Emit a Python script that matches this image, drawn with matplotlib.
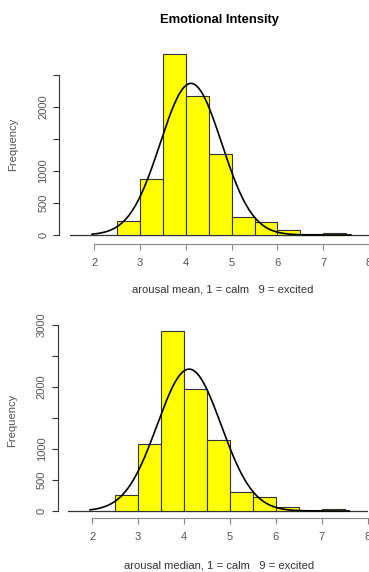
import matplotlib
matplotlib.use("Agg")
import matplotlib.pyplot as plt
import numpy as np

plt.rcParams["font.family"] = ["Liberation Sans", "DejaVu Sans"]

# histogram bins (width 0.5) and counts
bin_edges = [2.5, 3.0, 3.5, 4.0, 4.5, 5.0, 5.5, 6.0, 6.5, 7.0, 7.5]
mean_counts = [219, 870, 2828, 2177, 1260, 286, 203, 78, 12, 25]
median_counts = [253, 1086, 2909, 1963, 1151, 301, 232, 65, 10, 27]

# fitted normal curve overlaid on each histogram
mean_fit = (4.11, 0.67)
median_fit = (4.11, 0.697)
curve_range = (1.95, 7.6)

x_ticks = [2, 3, 4, 5, 6, 7, 8]
mean_yticks = [0, 500, 1000, 1500, 2000, 2500]
median_yticks = [0, 500, 1000, 1500, 2000, 2500, 3000]
mean_ylabels = ["0", "500", "1000", "", "2000", ""]
median_ylabels = ["0", "500", "1000", "", "2000", "", "3000"]

W, H = 369, 572
fig = plt.figure(figsize=(W / 100, H / 100), dpi=100)
GREY = "#555555"


def px_axes(l, t, r, b):
    return fig.add_axes([l / W, 1 - b / H, (r - l) / W, (b - t) / H])


def draw_panel(ax, counts, fit, yticks, ylabels, xlim, ylim, left_out, bottom_out):
    edges = np.array(bin_edges)
    ax.bar(edges[:-1], counts, width=np.diff(edges), align="edge",
           color="#ffff00", edgecolor="#333333", linewidth=0.8, zorder=2)
    mu, sd = fit
    xs = np.linspace(curve_range[0], curve_range[1], 300)
    n = sum(counts)
    ys = n * 0.5 * np.exp(-(xs - mu) ** 2 / (2 * sd ** 2)) / (sd * np.sqrt(2 * np.pi))
    ax.plot(xs, ys, color="black", linewidth=1.2, zorder=3)
    ax.axhline(0, color="#333333", linewidth=0.9, zorder=1)
    ax.set_xlim(*xlim)
    ax.set_ylim(*ylim)
    for s in ["top", "right"]:
        ax.spines[s].set_visible(False)
    ax.spines["left"].set_position(("outward", left_out * 0.72))
    ax.spines["left"].set_bounds(yticks[0], yticks[-1])
    ax.spines["left"].set_color("#333333")
    ax.spines["bottom"].set_position(("outward", bottom_out * 0.72))
    ax.spines["bottom"].set_bounds(x_ticks[0], x_ticks[-1])
    ax.spines["bottom"].set_color("#888888")
    ax.set_xticks(x_ticks)
    ax.set_xticklabels([str(t) for t in x_ticks])
    ax.set_yticks(yticks)
    ax.set_yticklabels(ylabels, rotation=90, va="center")
    ax.tick_params(axis="y", length=4.3, width=0.8, color="#333333",
                   labelsize=8, labelcolor=GREY, pad=3.5)
    ax.tick_params(axis="x", length=4.3, width=0.8, color="#888888",
                   labelsize=8, labelcolor=GREY, pad=5.5)
    ax.patch.set_visible(False)


ax1 = px_axes(70, 40, 370, 240)
draw_panel(ax1, mean_counts, mean_fit, mean_yticks, mean_ylabels,
           (1.469, 8.02), (-78.1, 3047), 11, 4)

ax2 = px_axes(68, 310, 368, 514)
draw_panel(ax2, median_counts, median_fit, median_yticks, median_ylabels,
           (1.471, 8.007), (-48.4, 3242), 10.5, 4.3)

fig.text(220 / W, 1 - 20 / H, "Emotional Intensity", ha="center", va="center",
         fontsize=9.4, fontweight="bold")
fig.text(13 / W, 1 - 144 / H, "Frequency", rotation=90, ha="center", va="center",
         fontsize=8.1, color=GREY)
fig.text(12 / W, 1 - 420 / H, "Frequency", rotation=90, ha="center", va="center",
         fontsize=8.1, color=GREY)
fig.text(223 / W, 1 - 290 / H, "arousal mean, 1 = calm   9 = excited",
         ha="center", va="center", fontsize=8.1, color="#333333")
fig.text(219 / W, 1 - 566 / H, "arousal median, 1 = calm   9 = excited",
         ha="center", va="center", fontsize=8.1, color="#333333")

fig.savefig("out.png", dpi=100)
